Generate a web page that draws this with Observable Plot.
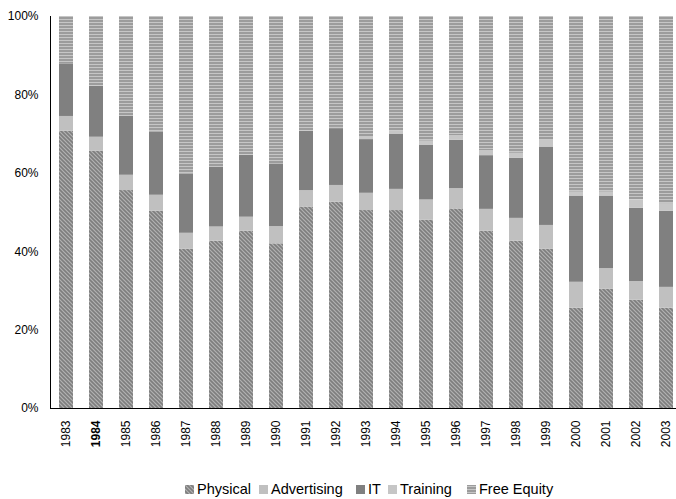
<!DOCTYPE html>
<html>
<head>
<meta charset="utf-8">
<script src="https://cdn.jsdelivr.net/npm/d3@7"></script>
<script src="https://cdn.jsdelivr.net/npm/@observablehq/plot@0.6"></script>
<style>
  body { margin: 0; background: #fff; font-family: "Liberation Sans", Arial, sans-serif; }
  #legend { position: relative; height: 18px; margin-top: 10px; width: 676px; }
  .item { position: absolute; top: 0; height: 18px; display: flex; align-items: center; font-size: 14.5px; color: #000; white-space: nowrap; }
  .item svg { margin-right: 3px; }
</style>
</head>
<body>
<div id="chart"></div>
<div id="legend"></div>
<script>
const years = ["1983","1984","1985","1986","1987","1988","1989","1990","1991","1992","1993","1994","1995","1996","1997","1998","1999","2000","2001","2002","2003"];
const seriesNames = ["Physical", "Advertising", "IT", "Training", "Free Equity"];
const physical    = [70.7, 65.6, 55.6, 50.3, 40.6, 42.7, 45.2, 42.0, 51.4, 52.6, 50.5, 50.5, 48.0, 50.9, 45.2, 42.7, 40.6, 25.6, 30.4, 27.6, 25.6];
const advertising = [3.8, 3.6, 3.9, 4.1, 4.1, 3.6, 3.6, 4.4, 4.2, 4.3, 4.4, 5.4, 5.2, 5.2, 5.6, 5.8, 6.1, 6.6, 5.3, 4.8, 5.3];
const it          = [13.3, 13.0, 15.1, 16.1, 15.1, 15.3, 15.8, 16.0, 15.1, 14.5, 13.7, 14.0, 13.9, 12.3, 13.7, 15.3, 20.0, 22.0, 18.5, 18.7, 19.4];
const training    = [0, 0, 0, 0, 0, 0, 0, 0, 0, 0.3, 0.5, 0.8, 1.1, 1.2, 1.3, 1.3, 1.9, 1.0, 1.0, 2.1, 1.9];
const freeEquity  = [12.2, 17.8, 25.4, 29.5, 40.2, 38.4, 35.4, 37.6, 29.3, 28.3, 30.9, 29.3, 31.8, 30.4, 34.2, 34.9, 31.4, 44.8, 44.8, 46.8, 47.8];
const yTicks = [0, 0.2, 0.4, 0.6, 0.8, 1];

const seriesValues = [physical, advertising, it, training, freeEquity];
const fills = ["url(#pPhys)", "#c0c0c0", "#808080", "#c6c6c6", "url(#pFree)"];

const data = [];
years.forEach((yr, i) => {
  seriesNames.forEach((s, j) => data.push({year: yr, series: s, value: seriesValues[j][i]}));
});

const svg = Plot.plot({
  width: 676,
  height: 470,
  marginLeft: 50,
  marginRight: 0,
  marginTop: 16,
  marginBottom: 62,
  style: {fontFamily: "'Liberation Sans', Arial, sans-serif", fontSize: "12px", color: "#000", background: "#fff"},
  x: {domain: years, paddingInner: 0.534, paddingOuter: 0.183, align: 0.727, label: null},
  y: {domain: [0, 1], label: null},
  color: {domain: seriesNames, range: fills},
  marks: [
    Plot.barY(data, Plot.stackY({offset: "normalize"}, {x: "year", y: "value", fill: "series"})),
    Plot.axisY({ticks: yTicks, tickFormat: d3.format(".0%"), tickSize: 0, tickPadding: 12, label: null, fill: "#000"}),
    Plot.axisX({tickRotate: -90, tickSize: 0, tickPadding: 12, label: null, fill: "#000"}),
    Plot.frame({anchor: "left", stroke: "#000"}),
    Plot.frame({anchor: "bottom", stroke: "#000"})
  ]
});

const defs = d3.select(svg).insert("defs", ":first-child");
const pp = defs.append("pattern").attr("id", "pPhys").attr("patternUnits", "userSpaceOnUse")
  .attr("width", 4).attr("height", 4);
pp.append("rect").attr("width", 4).attr("height", 4).attr("fill", "#7e7e7e");
pp.append("path").attr("d", "M-1,-1L5,5M-1,3L1,5M3,-1L5,1").attr("stroke", "#b2b2b2").attr("stroke-width", 1.2);
const pf = defs.append("pattern").attr("id", "pFree").attr("patternUnits", "userSpaceOnUse")
  .attr("width", 4).attr("height", 3);
pf.append("rect").attr("width", 4).attr("height", 3).attr("fill", "#9c9c9c");
pf.append("rect").attr("width", 4).attr("height", 1).attr("y", 1).attr("fill", "#c6c6c6");

d3.select(svg).selectAll("text").filter(function() { return this.textContent === "1984"; })
  .attr("font-weight", "bold");

document.getElementById("chart").appendChild(svg);

// Legend
const legendPos = [185, 259, 356, 388, 467];
const legend = d3.select("#legend");
seriesNames.forEach((s, j) => {
  const item = legend.append("div").attr("class", "item").style("left", legendPos[j] + "px");
  const sw = item.append("svg").attr("width", 9).attr("height", 9);
  sw.append("rect").attr("width", 9).attr("height", 9).attr("fill", fills[j]);
  item.append("span").text(s);
});
</script>
</body>
</html>
